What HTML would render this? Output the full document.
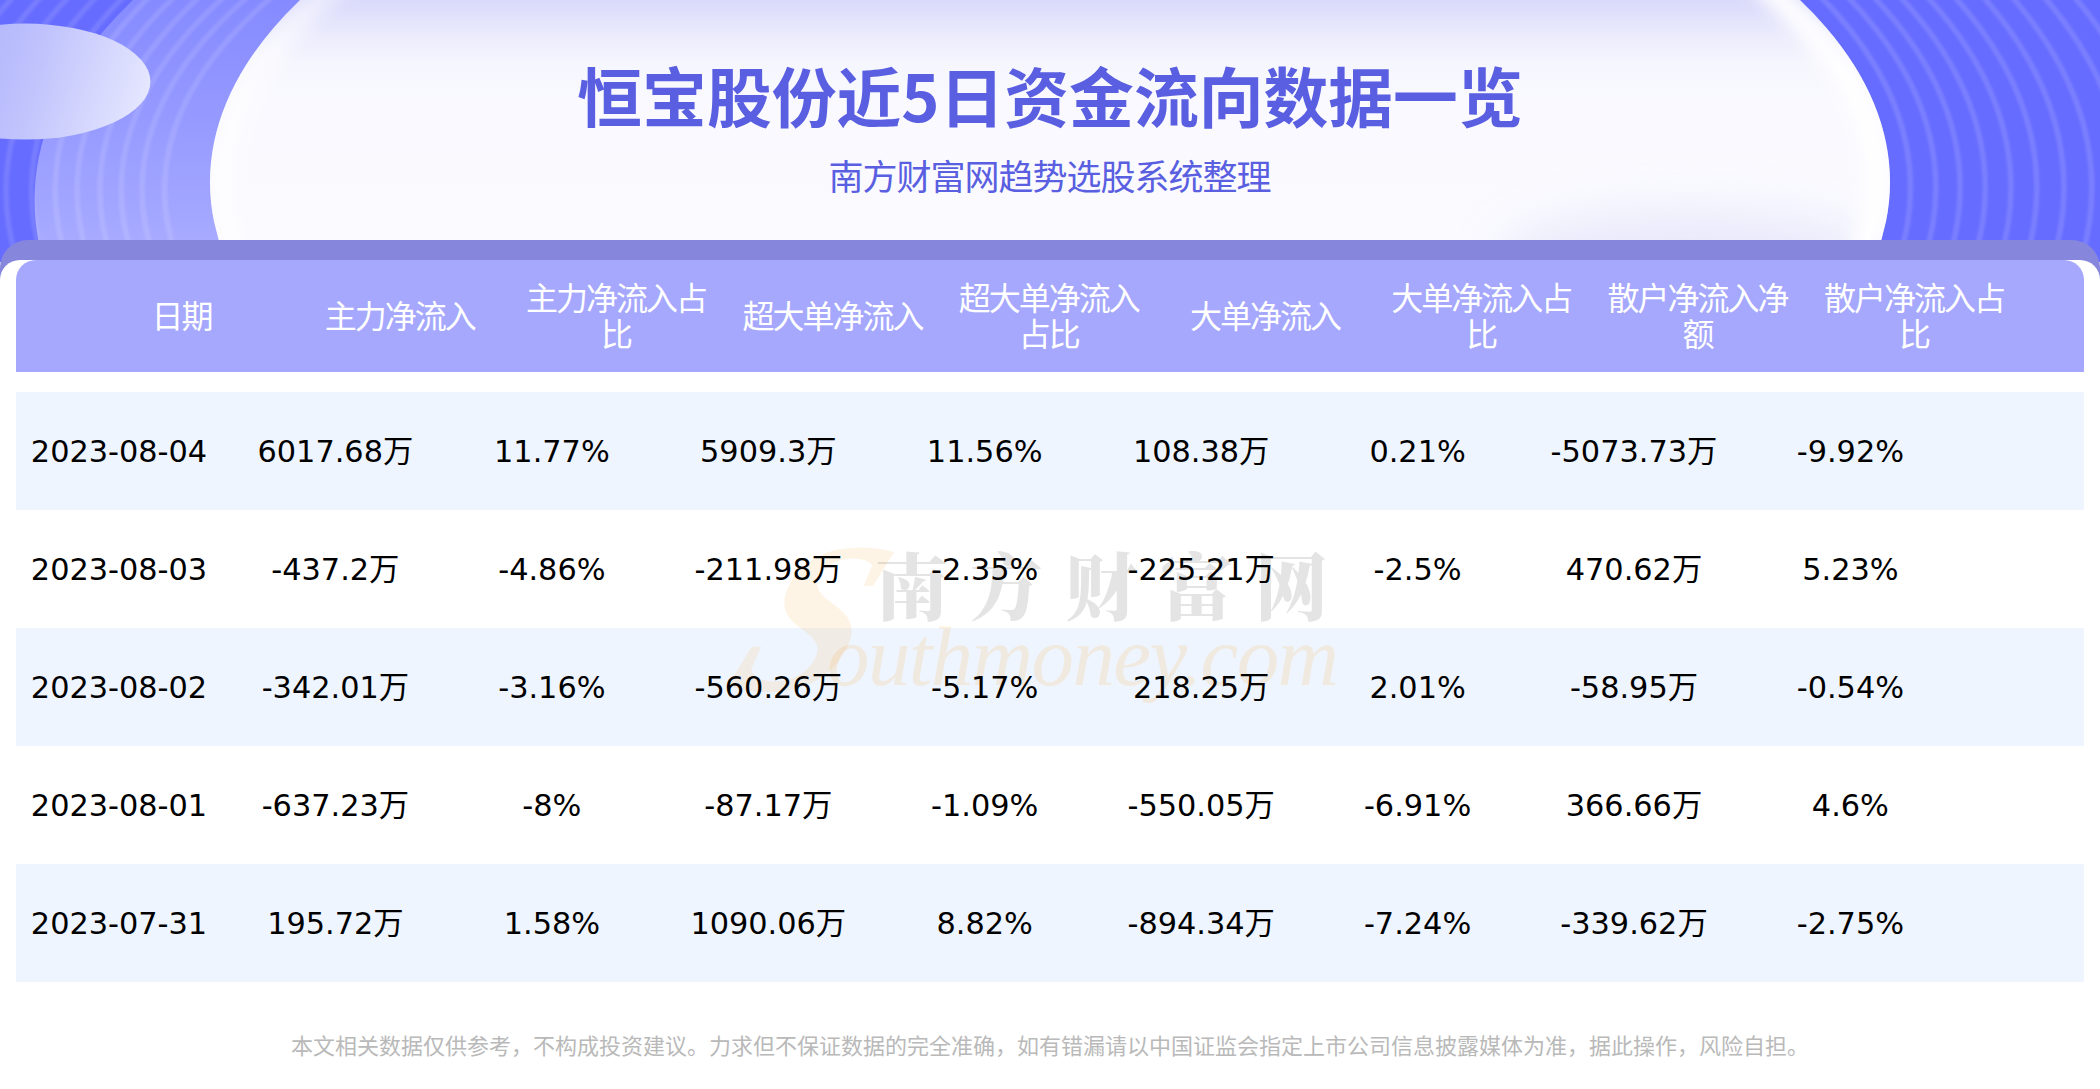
<!DOCTYPE html>
<html lang="zh-CN">
<head>
<meta charset="utf-8">
<title>恒宝股份近5日资金流向数据一览</title>
<style>
html,body{margin:0;padding:0;}
body{width:2100px;height:1089px;overflow:hidden;background:#fff;position:relative;font-family:"Liberation Sans","Noto Sans CJK SC",sans-serif;}
#bg{position:absolute;left:0;top:0;width:2100px;height:262px;display:block;}
#title{position:absolute;left:0;width:2100px;top:45.5px;text-align:center;font-size:64.8px;line-height:96px;font-weight:700;color:#595fe0;font-family:"Noto Sans CJK SC","Liberation Sans",sans-serif;white-space:nowrap;}
#sub{position:absolute;left:-0.5px;width:2100px;top:150px;text-align:center;font-size:35px;letter-spacing:-1px;line-height:50px;color:#595fe0;font-family:"Noto Sans CJK SC","Liberation Sans",sans-serif;font-weight:400;white-space:nowrap;}
#band{position:absolute;left:0;top:240px;width:2100px;height:60px;background:#8687dc;border-radius:28px 28px 0 0;}
#card{position:absolute;left:0;top:260px;width:2100px;height:829px;background:#fff;border-radius:20px 20px 0 0;}
#thead{position:absolute;left:16px;top:260px;width:2068px;height:112px;background:#a5a8fd;border-radius:20px 20px 0 0;}
.th{position:absolute;top:-2px;height:112px;width:216px;letter-spacing:-2px;display:flex;align-items:center;justify-content:center;text-align:center;color:#fff;font-size:32px;line-height:36px;font-family:"Noto Sans CJK SC","Liberation Sans",sans-serif;font-weight:400;}
.tr{position:absolute;left:16px;width:2068px;height:118px;}
.tr.odd{background:#eff5fe;}
.td{position:absolute;z-index:2;top:1px;height:118px;line-height:118px;width:216px;text-align:center;font-size:30.35px;color:#000;font-family:"DejaVu Sans","Noto Sans CJK SC",sans-serif;white-space:nowrap;}
#foot{position:absolute;left:0;width:2100px;top:1024px;text-align:center;font-size:22px;line-height:40px;color:#b9b9b9;font-family:"Noto Sans CJK SC","Liberation Sans",sans-serif;font-weight:400;white-space:nowrap;}
#wm{position:absolute;left:730px;top:520px;width:640px;height:200px;pointer-events:none;overflow:visible;z-index:1;}
.th:nth-child(1){left:57.5px;}
.td:nth-child(1){left:-5.0px;}
.th:nth-child(2){left:275.8px;}
.td:nth-child(2){left:211.4px;}
.th:nth-child(3){left:492.1px;}
.td:nth-child(3){left:427.9px;}
.th:nth-child(4){left:708.4px;}
.td:nth-child(4){left:644.3px;}
.th:nth-child(5){left:924.7px;}
.td:nth-child(5){left:860.7px;}
.th:nth-child(6){left:1141.0px;}
.td:nth-child(6){left:1077.2px;}
.th:nth-child(7){left:1357.3px;}
.td:nth-child(7){left:1293.6px;}
.th:nth-child(8){left:1573.6px;}
.td:nth-child(8){left:1510.0px;}
.th:nth-child(9){left:1789.9px;}
.td:nth-child(9){left:1726.4px;}
</style>
</head>
<body>
<svg id="bg" viewBox="0 0 2100 262" width="2100" height="262">
<defs>
<linearGradient id="gBand" x1="0" y1="0" x2="0" y2="240" gradientUnits="userSpaceOnUse">
<stop offset="0" stop-color="#858aff"/><stop offset="1" stop-color="#a7aaff"/>
</linearGradient>
<linearGradient id="gBig" x1="0" y1="0" x2="0" y2="240" gradientUnits="userSpaceOnUse">
<stop offset="0" stop-color="#d9d9fb"/><stop offset="0.07" stop-color="#e2e2fc"/><stop offset="0.16" stop-color="#ededfd"/><stop offset="0.27" stop-color="#f6f6fe"/><stop offset="0.42" stop-color="#f9f9ff"/><stop offset="1" stop-color="#fafaff"/>
</linearGradient>
<linearGradient id="gRim" x1="210" y1="0" x2="1890" y2="0" gradientUnits="userSpaceOnUse">
<stop offset="0" stop-color="#ffffff" stop-opacity="0.7"/><stop offset="0.2" stop-color="#ffffff" stop-opacity="0"/><stop offset="0.62" stop-color="#ffffff" stop-opacity="0"/><stop offset="0.95" stop-color="#ffffff" stop-opacity="0.95"/><stop offset="1" stop-color="#ffffff" stop-opacity="0.95"/>
</linearGradient>
<clipPath id="cLeft"><rect x="0" y="0" width="1050" height="262"/></clipPath>
<clipPath id="cRight"><rect x="1050" y="0" width="1050" height="262"/></clipPath>
<clipPath id="cBig"><ellipse cx="1050" cy="182" rx="840" ry="404"/></clipPath>
<filter id="fRim" x="-10%" y="-10%" width="120%" height="120%"><feGaussianBlur stdDeviation="8"/></filter>
<filter id="fShade" x="-30%" y="-60%" width="160%" height="220%"><feGaussianBlur stdDeviation="24"/></filter>
<linearGradient id="gSmall" x1="-94" y1="45" x2="150" y2="122" gradientUnits="userSpaceOnUse">
<stop offset="0" stop-color="#a4a8fb"/><stop offset="0.5" stop-color="#bfc2fc"/><stop offset="1" stop-color="#e9eaff"/>
</linearGradient>
<filter id="fRing" x="-5%" y="-5%" width="110%" height="110%"><feGaussianBlur stdDeviation="1"/></filter>
</defs>
<rect x="0" y="0" width="2100" height="262" fill="#666cff"/>
<ellipse cx="934" cy="200" rx="899.4" ry="440" fill="url(#gBand)"/>
<g fill="none" stroke="#ffffff" stroke-opacity="0.115" stroke-width="5.6" filter="url(#fRing)" clip-path="url(#cLeft)"><g transform="matrix(1 0 -0.028 1 5.18 0)">
<ellipse cx="1040.0" cy="185" rx="875.4" ry="401.3"/>
<ellipse cx="1041.4" cy="185" rx="899.3" ry="409.7"/>
<ellipse cx="1042.8" cy="185" rx="921.5" ry="420.4"/>
<ellipse cx="1044.2" cy="185" rx="944.2" ry="432.4"/>
<ellipse cx="1045.6" cy="185" rx="968.4" ry="442.5"/>
<ellipse cx="1047.0" cy="185" rx="991.7" ry="454.9"/>
<ellipse cx="1048.4" cy="185" rx="1016.8" ry="465.6"/>
<ellipse cx="1049.8" cy="185" rx="1043.7" ry="475.9"/>
<ellipse cx="1051.2" cy="185" rx="1071.2" ry="486.5"/>
<ellipse cx="1052.6" cy="185" rx="1098.7" ry="497.1"/>
<ellipse cx="1054.0" cy="185" rx="1126.2" ry="507.7"/>
<ellipse cx="1055.4" cy="185" rx="1153.7" ry="518.3"/>
<ellipse cx="1056.8" cy="185" rx="1181.2" ry="528.9"/>
<ellipse cx="1058.2" cy="185" rx="1208.7" ry="539.5"/>
<ellipse cx="1059.6" cy="185" rx="1236.2" ry="550.1"/>
<ellipse cx="1061.0" cy="185" rx="1263.7" ry="560.7"/>
</g></g>
<g fill="none" stroke="#ffffff" stroke-opacity="0.13" stroke-width="5.6" filter="url(#fRing)" clip-path="url(#cRight)">
<ellipse cx="1050" cy="188" rx="860.5" ry="430.0"/>
<ellipse cx="1050" cy="188" rx="885.8" ry="439.7"/>
<ellipse cx="1050" cy="188" rx="910.1" ry="449.4"/>
<ellipse cx="1050" cy="188" rx="935.2" ry="459.1"/>
<ellipse cx="1050" cy="188" rx="960.9" ry="468.8"/>
<ellipse cx="1050" cy="188" rx="986.8" ry="478.5"/>
<ellipse cx="1050" cy="188" rx="1014.0" ry="488.2"/>
<ellipse cx="1050" cy="188" rx="1041.8" ry="497.9"/>
<ellipse cx="1050" cy="188" rx="1073.0" ry="507.6"/>
<ellipse cx="1050" cy="188" rx="1102.5" ry="517.3"/>
<ellipse cx="1050" cy="188" rx="1132.5" ry="527.0"/>
<ellipse cx="1050" cy="188" rx="1162.5" ry="536.7"/>
</g>
<ellipse cx="1050" cy="182" rx="840" ry="404" fill="url(#gBig)"/>
<g clip-path="url(#cBig)">
<ellipse cx="1690" cy="262" rx="190" ry="48" fill="#dcdcf8" opacity="0.6" filter="url(#fShade)"/>
<ellipse cx="1050" cy="182" rx="826" ry="390" fill="none" stroke="url(#gRim)" stroke-width="26" filter="url(#fRim)"/>
</g>
<ellipse cx="25" cy="81.6" rx="125.4" ry="58" fill="url(#gSmall)"/>
</svg>
<div id="title">恒宝股份近5日资金流向数据一览</div>
<div id="sub">南方财富网趋势选股系统整理</div>
<div id="band"></div>
<div id="card"></div>
<div id="thead"><div class="th"><span>日期</span></div><div class="th"><span>主力净流入</span></div><div class="th"><span>主力净流入占<br>比</span></div><div class="th"><span>超大单净流入</span></div><div class="th"><span>超大单净流入<br>占比</span></div><div class="th"><span>大单净流入</span></div><div class="th"><span>大单净流入占<br>比</span></div><div class="th"><span>散户净流入净<br>额</span></div><div class="th"><span>散户净流入占<br>比</span></div></div>
<div style="top:392px" class="tr odd"><div class="td">2023-08-04</div><div class="td">6017.68万</div><div class="td">11.77%</div><div class="td">5909.3万</div><div class="td">11.56%</div><div class="td">108.38万</div><div class="td">0.21%</div><div class="td">-5073.73万</div><div class="td">-9.92%</div></div>
<div style="top:510px" class="tr"><div class="td">2023-08-03</div><div class="td">-437.2万</div><div class="td">-4.86%</div><div class="td">-211.98万</div><div class="td">-2.35%</div><div class="td">-225.21万</div><div class="td">-2.5%</div><div class="td">470.62万</div><div class="td">5.23%</div></div>
<div style="top:628px" class="tr odd"><div class="td">2023-08-02</div><div class="td">-342.01万</div><div class="td">-3.16%</div><div class="td">-560.26万</div><div class="td">-5.17%</div><div class="td">218.25万</div><div class="td">2.01%</div><div class="td">-58.95万</div><div class="td">-0.54%</div></div>
<div style="top:746px" class="tr"><div class="td">2023-08-01</div><div class="td">-637.23万</div><div class="td">-8%</div><div class="td">-87.17万</div><div class="td">-1.09%</div><div class="td">-550.05万</div><div class="td">-6.91%</div><div class="td">366.66万</div><div class="td">4.6%</div></div>
<div style="top:864px" class="tr odd"><div class="td">2023-07-31</div><div class="td">195.72万</div><div class="td">1.58%</div><div class="td">1090.06万</div><div class="td">8.82%</div><div class="td">-894.34万</div><div class="td">-7.24%</div><div class="td">-339.62万</div><div class="td">-2.75%</div></div>

<svg id="wm" viewBox="730 520 640 200" width="640" height="200">
<text x="0" y="0" font-family="'Liberation Serif','DejaVu Serif',serif" font-style="italic" font-weight="bold" font-size="215" fill="#f5a530" fill-opacity="0.12" transform="translate(722 690) skewX(-24)">S</text>
<text x="875" y="614" font-family="'Noto Serif CJK SC','Noto Sans CJK SC',serif" font-weight="900" font-size="73" letter-spacing="22" fill="#000000" fill-opacity="0.105">南方财富网</text>
<text x="827" y="685" font-family="'Liberation Serif','DejaVu Serif',serif" font-style="italic" font-size="85" textLength="512" lengthAdjust="spacing" fill="#f5a530" fill-opacity="0.15">outhmoney.com</text>
</svg>
<div id="foot">本文相关数据仅供参考，不构成投资建议。力求但不保证数据的完全准确，如有错漏请以中国证监会指定上市公司信息披露媒体为准，据此操作，风险自担。</div>
</body>
</html>
